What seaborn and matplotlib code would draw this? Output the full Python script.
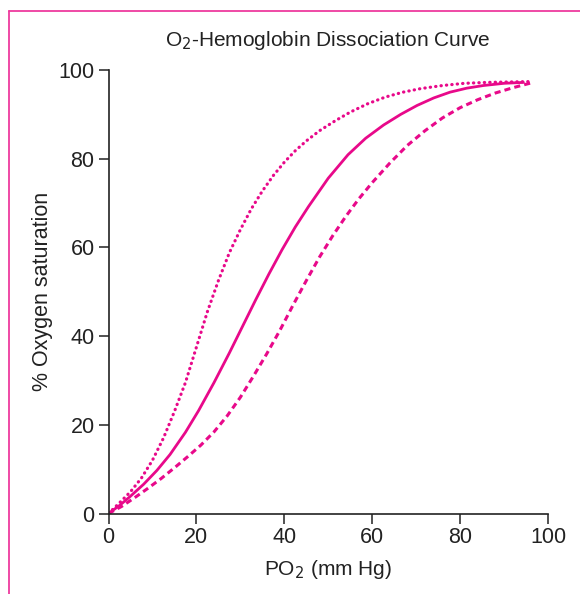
import numpy as np
import pandas as pd
import matplotlib
matplotlib.use('Agg')
import matplotlib.pyplot as plt
from matplotlib.lines import Line2D
import seaborn as sns

# values
normal_po2 = [0, 2.5, 5, 8, 11, 14, 17.5, 20.5, 24, 27.5, 30.5, 33.5, 36.5, 39.5, 42.5, 45.5,
              50, 54.5, 58.5, 62.6, 66.5, 70.2, 74, 77.7, 81.5, 85.3, 90, 94.4]
normal_sat = [0, 1.8, 3.9, 6.6, 9.7, 13.3, 18.3, 23.2, 29.5, 36.2, 42.2, 48.2, 54, 59.5, 64.6, 69.2,
              75.6, 80.9, 84.6, 87.6, 90, 92, 93.7, 95, 95.9, 96.5, 97, 97.2]

left_po2 = [0, 2.5, 5, 7.5, 10, 12.5, 15, 17.5, 20, 22.5, 25, 27.5, 30, 32.5, 35, 37.5, 40, 42.5,
            45, 48, 51.5, 55, 59, 63, 67, 71, 76, 81, 86, 91, 96.6]
left_sat = [0, 2.4, 4.9, 8, 12, 17, 23, 29.5, 37.5, 45.5, 52.5, 58.8, 64, 68.7, 72.7, 76.2, 79.2, 81.8,
            84, 86.3, 88.5, 90.5, 92.4, 93.9, 95, 95.8, 96.5, 97, 97.2, 97.3, 97.4]

right_po2 = [0, 3, 6, 9, 12, 15, 18, 21, 24, 27, 30, 33, 36, 39, 42, 45, 48, 51, 54, 57, 60,
             64, 68, 72, 76, 80, 84, 88, 92, 96.6]
right_sat = [0, 1.6, 3.6, 5.7, 7.9, 10.3, 12.8, 15.4, 18.4, 22, 26.2, 31, 36, 41.3, 47, 52.5, 57.8,
             62.6, 67, 71, 74.6, 79, 83, 86.3, 89.2, 91.5, 93.3, 94.8, 96, 97.2]

ticks = [0, 20, 40, 60, 80, 100]

sns.set_style('ticks')
plt.rcParams['font.family'] = ['Liberation Sans', 'DejaVu Sans']

pink = '#E8098A'
ink = '#222222'

fig = plt.figure(figsize=(5.8, 5.94), dpi=100)
ax = fig.add_axes([108.5 / 580, 80.5 / 594, 439.5 / 580, 443.5 / 594])

sns.lineplot(x=normal_po2, y=normal_sat, ax=ax, color=pink, lw=2.0, sort=False)
sns.lineplot(x=left_po2, y=left_sat, ax=ax, color=pink, lw=2.3, sort=False,
             linestyle=(0, (0.1, 1.6)), dash_capstyle='round')
sns.lineplot(x=right_po2, y=right_sat, ax=ax, color=pink, lw=2.2, sort=False,
             linestyle=(0, (2.0, 1.35)))

ax.set_xlim(0, 100)
ax.set_ylim(0, 100)
ax.set_xticks(ticks)
ax.set_yticks(ticks)
ax.tick_params(axis='both', labelsize=15.5, length=7, width=1.1, color=ink,
               labelcolor=ink, pad=3)
for s in ['left', 'bottom']:
    ax.spines[s].set_linewidth(1.2)
    ax.spines[s].set_color(ink)
sns.despine(ax=ax)

ax.set_xlabel('PO$_2$ (mm Hg)', fontsize=15, color=ink, labelpad=7)
ax.set_ylabel('% Oxygen saturation', fontsize=15.5, color=ink, labelpad=4)
ax.set_title('O$_2$-Hemoglobin Dissociation Curve', fontsize=15, color=ink, pad=17)

# pink frame around the figure (left and top edges)
fig.add_artist(Line2D([8.5 / 580, 8.5 / 580], [0, 1 - 10.5 / 594], transform=fig.transFigure,
                      color='#EE3A9E', lw=1.3))
fig.add_artist(Line2D([8.5 / 580, 1], [1 - 10.5 / 594, 1 - 10.5 / 594], transform=fig.transFigure,
                      color='#EE3A9E', lw=1.3))

fig.savefig('out.png', dpi=100)
